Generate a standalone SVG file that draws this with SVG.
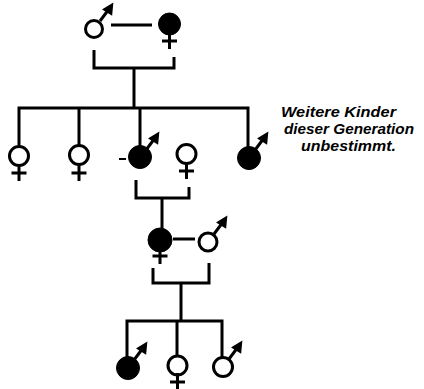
<svg xmlns="http://www.w3.org/2000/svg" width="424" height="389" viewBox="0 0 424 389">
<style>
.ln{fill:none;stroke:#000;stroke-width:3;stroke-linecap:butt;stroke-linejoin:miter}
.open{fill:#fff;stroke:#000;stroke-width:3}
.full{fill:#000;stroke:#000;stroke-width:1}
.sym{fill:none;stroke:#000;stroke-width:3}
.head{fill:#000;stroke:#000;stroke-width:1.5;stroke-linejoin:miter}
.txt{font-family:"Liberation Sans",Arial,sans-serif;font-weight:bold;font-style:italic;font-size:14.5px;fill:#000}
</style>
<defs>
<g id="maleArrow"><path class="sym" d="M6,-8 L15,-20"/><path class="head" d="M9.5,-19.5 L18.5,-25 L17.5,-14.5 Z"/></g>
<g id="femCross"><path class="sym" d="M0,9 V26 M-7.5,18 H7.5"/></g>
</defs>
<rect width="424" height="389" fill="#fff"/>
<g id="connectors">
<path class="ln" d="M111,25 H152"/>
<path class="ln" d="M94,50 V68 H174 V57"/>
<path class="ln" d="M134,68 V108"/>
<path class="ln" d="M19,147 V108 H248 V147"/>
<path class="ln" d="M79,108 V146"/>
<path class="ln" d="M140,108 V146"/>
<path class="ln" d="M119,159 H126" style="stroke-width:2"/>
<path class="ln" d="M136,180 V198 H189 V187"/>
<path class="ln" d="M162,198 V229"/>
<path class="ln" d="M173,239 H195"/>
<path class="ln" d="M153,268 V283 H209 V263"/>
<path class="ln" d="M181,283 V321"/>
<path class="ln" d="M127,357 V321 H222 V358"/>
<path class="ln" d="M177,321 V355"/>
</g>
<g id="g1-father"><circle class="open" cx="94" cy="29" r="8.5"/><use href="#maleArrow" x="94" y="29"/></g>
<g id="g1-mother"><circle class="full" cx="169.5" cy="24" r="11"/><use href="#femCross" x="169.5" y="23"/></g>
<g id="c1"><circle class="open" cx="19" cy="156" r="9.5"/><use href="#femCross" x="19" y="155"/></g>
<g id="c2"><circle class="open" cx="79" cy="155" r="9.5"/><use href="#femCross" x="79" y="155"/></g>
<g id="c3"><circle class="full" cx="140" cy="157" r="11.5"/><use href="#maleArrow" x="140" y="158"/></g>
<g id="c4"><circle class="open" cx="186.5" cy="154" r="9.5"/><use href="#femCross" x="186.5" y="153"/></g>
<g id="c5"><circle class="full" cx="249" cy="158" r="11.5"/><use href="#maleArrow" x="249" y="158"/></g>
<g id="g2-mother"><circle class="full" cx="160" cy="240" r="12"/><use href="#femCross" x="160" y="238"/></g>
<g id="g2-father"><circle class="open" cx="208" cy="242" r="9"/><use href="#maleArrow" x="208" y="242"/></g>
<g id="d1"><circle class="full" cx="128" cy="368" r="11.5"/><use href="#maleArrow" x="128" y="368"/></g>
<g id="d2"><circle class="open" cx="177.5" cy="365.5" r="9.5"/><use href="#femCross" x="177.5" y="364"/></g>
<g id="d3"><circle class="open" cx="223" cy="367" r="9.5"/><use href="#maleArrow" x="223" y="367"/></g>
<g id="note">
<text class="txt" x="281" y="117" textLength="115" lengthAdjust="spacingAndGlyphs">Weitere Kinder</text>
<text class="txt" x="284" y="134" textLength="130" lengthAdjust="spacingAndGlyphs">dieser Generation</text>
<text class="txt" x="301" y="151" textLength="95" lengthAdjust="spacingAndGlyphs">unbestimmt.</text>
</g>
</svg>
